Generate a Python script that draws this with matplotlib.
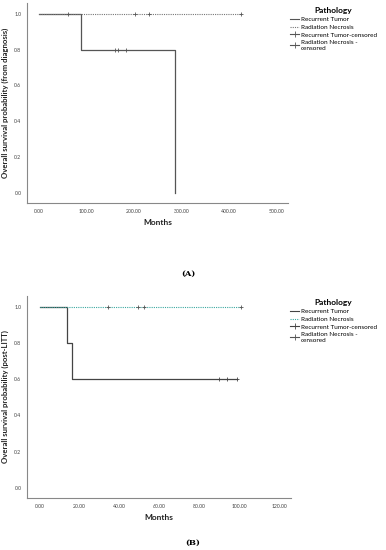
import matplotlib
matplotlib.use('Agg')
import matplotlib.pyplot as plt
from matplotlib.lines import Line2D
import matplotlib.ticker as ticker

plt.rcParams['font.family'] = ['Lato', 'DejaVu Sans']

# ---- data ----
# panel A: from diagnosis
a_rt_times = [0, 88, 286]
a_rt_surv = [1.0, 0.8, 0.0]
a_rt_cens_t = [160, 166, 183]
a_rt_cens_s = [0.8, 0.8, 0.8]
a_rn_times = [0, 425]
a_rn_surv = [1.0, 1.0]
a_rn_cens_t = [62, 202, 232, 425]
a_rn_cens_s = [1.0, 1.0, 1.0, 1.0]
a_xticks = [0, 100, 200, 300, 400, 500]

# panel B: post-LITT
b_rt_times = [0, 13.5, 16.3, 99]
b_rt_surv = [1.0, 0.8, 0.6, 0.6]
b_rt_cens_t = [90, 94, 99]
b_rt_cens_s = [0.6, 0.6, 0.6]
b_rn_times = [0, 101]
b_rn_surv = [1.0, 1.0]
b_rn_cens_t = [34.4, 49.2, 52.4, 101]
b_rn_cens_s = [1.0, 1.0, 1.0, 1.0]
b_xticks = [0, 20, 40, 60, 80, 100, 120]

yticks = [0.0, 0.2, 0.4, 0.6, 0.8, 1.0]
labels = ['Recurrent Tumor', 'Radiation Necrosis', 'Recurrent Tumor-censored',
          'Radiation Necrosis -\ncensored']

W, H = 386, 550
fig = plt.figure(figsize=(W / 100, H / 100), dpi=100)

def px_axes(l, t, r, b):
    return fig.add_axes([l / W, 1 - b / H, (r - l) / W, (b - t) / H])

def km_panel(ax, rt_t, rt_s, rt_ct, rt_cs, rn_t, rn_s, rn_ct, rn_cs,
             xticks, xlim, ylabel, rn_color, rt_color):
    ax.step(rt_t, rt_s, where='post', color=rt_color, lw=0.9)
    ax.step(rn_t, rn_s, where='post', color=rn_color, lw=0.8, ls=(0, (1, 1)))
    ax.plot(rt_ct, rt_cs, ls='none', marker='+', ms=3.5, mew=0.6, color=rt_color)
    ax.plot(rn_ct, rn_cs, ls='none', marker='+', ms=3.5, mew=0.6, color='#555555')
    ax.set_xlim(*xlim)
    ax.set_ylim(-0.056, 1.06)
    ax.set_xticks(xticks)
    ax.set_yticks(yticks)
    ax.xaxis.set_major_formatter(ticker.FormatStrFormatter('%.2f'))
    ax.yaxis.set_major_formatter(ticker.FormatStrFormatter('%.1f'))
    ax.tick_params(length=0, labelsize=3.7, labelcolor='#444444', pad=4)
    for s in ['top', 'right']:
        ax.spines[s].set_visible(False)
    for s in ['left', 'bottom']:
        ax.spines[s].set_color('#888888')
        ax.spines[s].set_linewidth(0.8)
    ax.set_xlabel('Months', fontsize=6, fontweight='bold', color='#222222', labelpad=4)
    ax.set_ylabel(ylabel, fontsize=5.6, fontweight='bold', color='#222222', labelpad=4)

    handles = [
        Line2D([], [], color=rt_color, lw=0.8),
        Line2D([], [], color=rn_color, lw=0.8, ls=(0, (1, 1))),
        Line2D([], [], color=rt_color, lw=0.8, marker='+', ms=5, mew=0.6),
        Line2D([], [], color='#555555', lw=0.8, marker='+', ms=5, mew=0.6),
    ]
    return handles

def add_legend(ax, handles, top_px):
    leg = ax.legend(handles, labels, loc='upper left',
                    bbox_to_anchor=(286 / W, 1 - top_px / H),
                    bbox_transform=fig.transFigure, frameon=False, fontsize=4.6,
                    title='Pathology', title_fontproperties={'weight': 'bold', 'size': 6},
                    handlelength=1.3, handletextpad=0.3, labelspacing=0.35,
                    borderpad=0.2)
    return leg

# ---- panel A ----
axA = px_axes(27, 3, 288, 203)
hA = km_panel(axA, a_rt_times, a_rt_surv, a_rt_cens_t, a_rt_cens_s,
              a_rn_times, a_rn_surv, a_rn_cens_t, a_rn_cens_s,
              a_xticks, (-25, 525), 'Overall survival probability (from diagnosis)',
              '#777777', '#555555')
add_legend(axA, hA, 3)

# ---- panel B ----
axB = px_axes(27, 296, 291, 498)
hB = km_panel(axB, b_rt_times, b_rt_surv, b_rt_cens_t, b_rt_cens_s,
              b_rn_times, b_rn_surv, b_rn_cens_t, b_rn_cens_s,
              b_xticks, (-6.4, 126), 'Overall survival probability (post-LITT)',
              '#3aa8a0', '#444444')
add_legend(axB, hB, 295)

fig.text(188 / W, 1 - 274 / H, '(A)', ha='center', va='center', fontsize=6,
         family='DejaVu Serif', fontweight='bold')
fig.text(193 / W, 1 - 543 / H, '(B)', ha='center', va='center', fontsize=6,
         family='DejaVu Serif', fontweight='bold')

fig.savefig('out.png', dpi=100)
